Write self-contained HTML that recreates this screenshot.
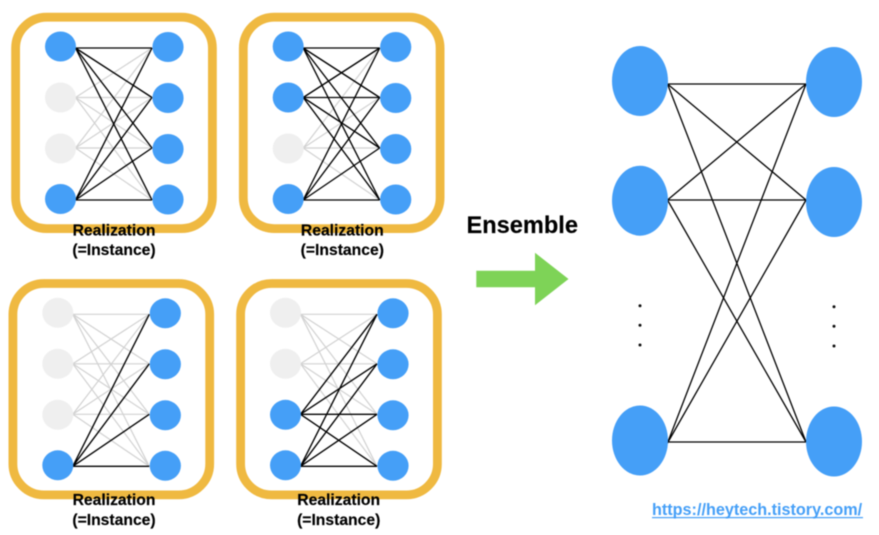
<!DOCTYPE html>
<html>
<head>
<meta charset="utf-8">
<style>
html,body{margin:0;padding:0;background:#fff;width:879px;height:535px;overflow:hidden}
svg{display:block;filter:blur(0.4px)}
text{font-family:"Liberation Sans",Arial,sans-serif;font-weight:700;fill:#000;stroke:#000;stroke-width:0.15px}
.lb{font-size:15.7px;text-anchor:middle}
</style>
</head>
<body>
<svg width="879" height="535" viewBox="0 0 879 535" xmlns="http://www.w3.org/2000/svg">
<defs>
<g id="a0"><path d="M75.5 48L152 48M75.5 48L152 97.5M75.5 48L152 148M75.5 48L152 200"/></g>
<g id="a1"><path d="M75.5 97.5L152 48M75.5 97.5L152 97.5M75.5 97.5L152 148M75.5 97.5L152 200"/></g>
<g id="a2"><path d="M75.5 148L152 48M75.5 148L152 97.5M75.5 148L152 148M75.5 148L152 200"/></g>
<g id="a3"><path d="M75.5 200L152 48M75.5 200L152 97.5M75.5 200L152 148M75.5 200L152 200"/></g>
<g id="frame"><rect x="15.6" y="17.2" width="196.8" height="211.4" rx="31" ry="31" fill="#fff" stroke="#EFB941" stroke-width="8.8"/></g>
<g id="right" fill="#459FF7">
<ellipse cx="168" cy="47" rx="15.6" ry="15"/><ellipse cx="168" cy="98" rx="15.6" ry="15"/><ellipse cx="168" cy="149" rx="15.6" ry="15"/><ellipse cx="168" cy="199.5" rx="15.6" ry="15"/>
</g>
</defs>

<!-- Panel 1 -->
<g>
<use href="#frame"/>
<g fill="none" stroke="#d2d2d2" stroke-width="1.2"><use href="#a1"/><use href="#a2"/></g>
<g fill="none" stroke="#000" stroke-width="1.35"><use href="#a0"/><use href="#a3"/></g>
<ellipse cx="60.5" cy="46.5" rx="15.5" ry="15" fill="#459FF7"/>
<ellipse cx="60.5" cy="97.5" rx="15.5" ry="15" fill="#EFEFEF"/>
<ellipse cx="60.5" cy="148.5" rx="15.5" ry="15" fill="#EFEFEF"/>
<ellipse cx="60.5" cy="199" rx="15.5" ry="15" fill="#459FF7"/>
<use href="#right"/>
</g>

<!-- Panel 2 -->
<g transform="translate(227.7,0)">
<use href="#frame"/>
<g fill="none" stroke="#d2d2d2" stroke-width="1.2"><use href="#a2"/></g>
<g fill="none" stroke="#000" stroke-width="1.35"><use href="#a0"/><use href="#a1"/><use href="#a3"/></g>
<ellipse cx="60.5" cy="46.5" rx="15.5" ry="15" fill="#459FF7"/>
<ellipse cx="60.5" cy="97.5" rx="15.5" ry="15" fill="#459FF7"/>
<ellipse cx="60.5" cy="148.5" rx="15.5" ry="15" fill="#EFEFEF"/>
<ellipse cx="60.5" cy="199" rx="15.5" ry="15" fill="#459FF7"/>
<use href="#right"/>
</g>

<!-- Panel 3 -->
<g transform="translate(-2.7,266.3)">
<use href="#frame"/>
<g fill="none" stroke="#d2d2d2" stroke-width="1.2"><use href="#a0"/><use href="#a1"/><use href="#a2"/></g>
<g fill="none" stroke="#000" stroke-width="1.35"><use href="#a3"/></g>
<ellipse cx="60.5" cy="46.5" rx="15.5" ry="15" fill="#EFEFEF"/>
<ellipse cx="60.5" cy="97.5" rx="15.5" ry="15" fill="#EFEFEF"/>
<ellipse cx="60.5" cy="148.5" rx="15.5" ry="15" fill="#EFEFEF"/>
<ellipse cx="60.5" cy="199" rx="15.5" ry="15" fill="#459FF7"/>
<use href="#right"/>
</g>

<!-- Panel 4 -->
<g transform="translate(225,266.3)">
<use href="#frame"/>
<g fill="none" stroke="#d2d2d2" stroke-width="1.2"><use href="#a0"/><use href="#a1"/></g>
<g fill="none" stroke="#000" stroke-width="1.35"><use href="#a2"/><use href="#a3"/></g>
<ellipse cx="60.5" cy="46.5" rx="15.5" ry="15" fill="#EFEFEF"/>
<ellipse cx="60.5" cy="97.5" rx="15.5" ry="15" fill="#EFEFEF"/>
<ellipse cx="60.5" cy="148.5" rx="15.5" ry="15" fill="#459FF7"/>
<ellipse cx="60.5" cy="199" rx="15.5" ry="15" fill="#459FF7"/>
<use href="#right"/>
</g>

<!-- Labels -->
<text class="lb" x="114" y="235.5">Realization</text>
<text class="lb" x="114" y="255">(=Instance)</text>
<text class="lb" x="342.3" y="235.5">Realization</text>
<text class="lb" x="342.3" y="255">(=Instance)</text>
<text class="lb" x="114" y="505">Realization</text>
<text class="lb" x="114" y="525">(=Instance)</text>
<text class="lb" x="338.7" y="505">Realization</text>
<text class="lb" x="338.7" y="525">(=Instance)</text>

<!-- Ensemble arrow -->
<text x="466.5" y="233" font-size="23.6">Ensemble</text>
<polygon points="476.3,270.7 535,270.7 535,252.7 568.5,279 535,305.3 535,287.3 476.3,287.3" fill="#7ED357"/>

<!-- Big network -->
<g fill="none" stroke="#000" stroke-width="1.3">
<path d="M667.5 84L806 84M667.5 84L806 200M667.5 84L806 442"/>
<path d="M667.5 200L806 84M667.5 200L806 200M667.5 200L806 442"/>
<path d="M667.5 443L806 84M667.5 443L806 200M667.5 442L806 442"/>
</g>
<g fill="#459FF7">
<ellipse cx="640" cy="81" rx="28" ry="35"/>
<ellipse cx="640" cy="200.7" rx="28" ry="35"/>
<ellipse cx="640" cy="440.5" rx="28" ry="35"/>
<ellipse cx="834" cy="82" rx="28" ry="35"/>
<ellipse cx="834" cy="202" rx="28" ry="35"/>
<ellipse cx="834" cy="441.5" rx="28" ry="35"/>
</g>
<g fill="#111">
<circle cx="640" cy="305.7" r="1.5"/><circle cx="640" cy="325.3" r="1.5"/><circle cx="640" cy="345" r="1.5"/>
<circle cx="834" cy="306.7" r="1.5"/><circle cx="834" cy="326.3" r="1.5"/><circle cx="834" cy="346" r="1.5"/>
</g>

<!-- URL -->
<text x="652" y="515" font-size="16.2" style="fill:#459FF7;stroke:none">https://heytech.tistory.com/</text>
<rect x="652" y="517" width="211" height="1.2" fill="#459FF7"/>
</svg>
</body>
</html>
